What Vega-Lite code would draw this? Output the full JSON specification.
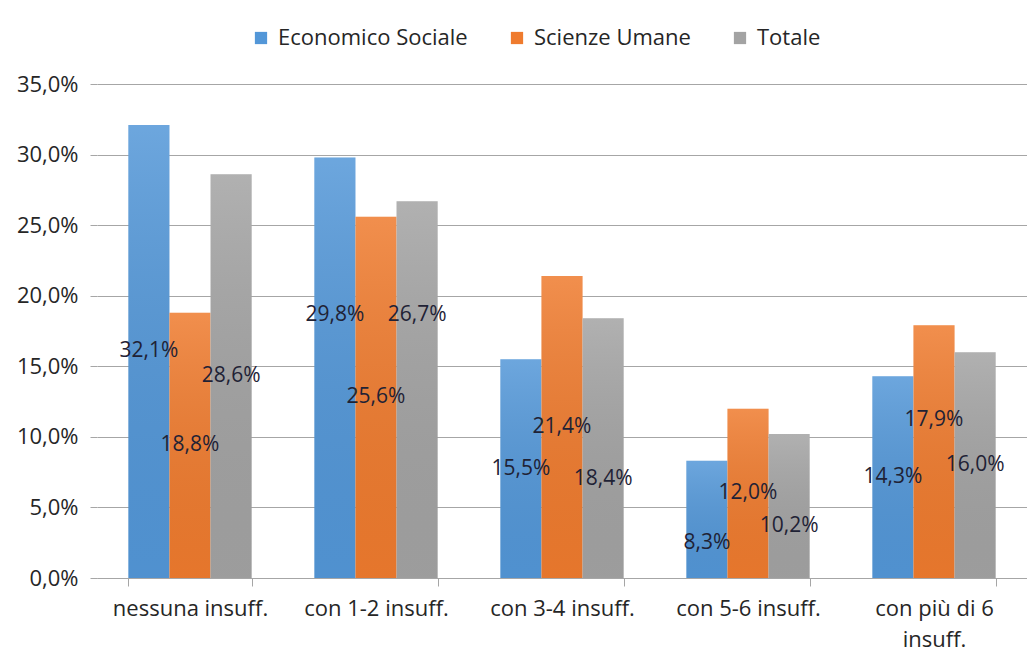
{
  "$schema": "https://vega.github.io/schema/vega-lite/v6.json",
  "autosize": {"type": "none"},
  "padding": {"left": 97, "top": 84, "right": 0, "bottom": 77},
  "width": 930,
  "height": 494,
  "background": "white",
  "config": {
    "locale": {"number": {"decimal": ",", "thousands": ".", "grouping": [3], "currency": ["€", ""]}},
    "view": {"stroke": null},
    "font": "Open Sans",
    "axis": {"labelFont": "Open Sans", "labelColor": "#262626", "labelFontSize": 22}
  },
  "data": {
    "values": [
      {"cat": "nessuna insuff.", "serie": "Economico Sociale", "value": 0.321},
      {"cat": "nessuna insuff.", "serie": "Scienze Umane", "value": 0.188},
      {"cat": "nessuna insuff.", "serie": "Totale", "value": 0.286},
      {"cat": "con 1-2 insuff.", "serie": "Economico Sociale", "value": 0.298},
      {"cat": "con 1-2 insuff.", "serie": "Scienze Umane", "value": 0.256},
      {"cat": "con 1-2 insuff.", "serie": "Totale", "value": 0.267},
      {"cat": "con 3-4 insuff.", "serie": "Economico Sociale", "value": 0.155},
      {"cat": "con 3-4 insuff.", "serie": "Scienze Umane", "value": 0.214},
      {"cat": "con 3-4 insuff.", "serie": "Totale", "value": 0.184},
      {"cat": "con 5-6 insuff.", "serie": "Economico Sociale", "value": 0.083},
      {"cat": "con 5-6 insuff.", "serie": "Scienze Umane", "value": 0.120},
      {"cat": "con 5-6 insuff.", "serie": "Totale", "value": 0.102},
      {"cat": "con più di 6 insuff.", "serie": "Economico Sociale", "value": 0.143},
      {"cat": "con più di 6 insuff.", "serie": "Scienze Umane", "value": 0.179},
      {"cat": "con più di 6 insuff.", "serie": "Totale", "value": 0.160}
    ]
  },
  "encoding": {
    "x": {
      "field": "cat", "type": "nominal", "sort": null,
      "scale": {"paddingInner": 0.337, "paddingOuter": 0.1685},
      "axis": {
        "title": null, "labelAngle": 0, "domainColor": "#a6a6a6", "tickColor": "#a6a6a6",
        "tickBand": "extent", "tickSize": 8, "labelPadding": 12, "labelLineHeight": 31,
        "labelExpr": "datum.label == 'con più di 6 insuff.' ? ['con più di 6', 'insuff.'] : datum.label"
      }
    },
    "xOffset": {"field": "serie", "type": "nominal", "sort": ["Economico Sociale", "Scienze Umane", "Totale"]}
  },
  "layer": [
    {
      "mark": {"type": "bar"},
      "encoding": {
        "y": {
          "field": "value", "type": "quantitative",
          "scale": {"domain": [0, 0.35], "nice": false},
          "axis": {
            "title": null, "format": ".1%", "values": [0, 0.05, 0.1, 0.15, 0.2, 0.25, 0.3, 0.35],
            "domain": false, "tickColor": "#a6a6a6", "tickSize": 7, "labelPadding": 12,
            "gridColor": "#a6a6a6", "gridWidth": 1
          }
        },
        "color": {
          "field": "serie", "type": "nominal",
          "sort": ["Economico Sociale", "Scienze Umane", "Totale"],
          "scale": {"domain": ["Economico Sociale", "Scienze Umane", "Totale"], "range": ["#5397d8", "#ef7b2e", "#a3a3a3"]},
          "legend": {
            "title": null, "orient": "none", "direction": "horizontal", "legendX": 153, "legendY": -57,
            "symbolType": "square", "symbolSize": 150, "symbolStrokeWidth": 0, "labelFontSize": 22,
            "labelFont": "Open Sans", "labelColor": "#262626", "columnPadding": 38, "symbolOffset": 0,
            "labelOffset": 6, "labelLimit": 400
          }
        }
      }
    },
    {
      "mark": {
        "type": "bar",
        "fill": {"gradient": "linear", "x1": 0, "y1": 0, "x2": 0, "y2": 1,
          "stops": [{"offset": 0, "color": "rgba(255,255,255,0.15)"}, {"offset": 1, "color": "rgba(0,0,0,0.04)"}]}
      },
      "encoding": {"y": {"field": "value", "type": "quantitative"}}
    },
    {
      "transform": [
        {"calculate": "datum.cat == 'con 1-2 insuff.' && datum.serie != 'Scienze Umane' ? 0.186 : datum.cat == 'con 3-4 insuff.' && datum.serie == 'Totale' ? 0.07 : datum.cat == 'con 5-6 insuff.' && datum.serie == 'Economico Sociale' ? 0.025 : datum.cat == 'con 5-6 insuff.' && datum.serie == 'Totale' ? 0.037 : datum.cat == 'con più di 6 insuff.' && datum.serie == 'Scienze Umane' ? 0.112 : datum.value / 2", "as": "labelpos"}
      ],
      "mark": {"type": "text", "fontSize": 21, "font": "Open Sans", "color": "#1f2235", "baseline": "middle"},
      "encoding": {
        "y": {"field": "labelpos", "type": "quantitative"},
        "text": {"field": "value", "type": "quantitative", "format": ".1%"}
      }
    }
  ]
}
